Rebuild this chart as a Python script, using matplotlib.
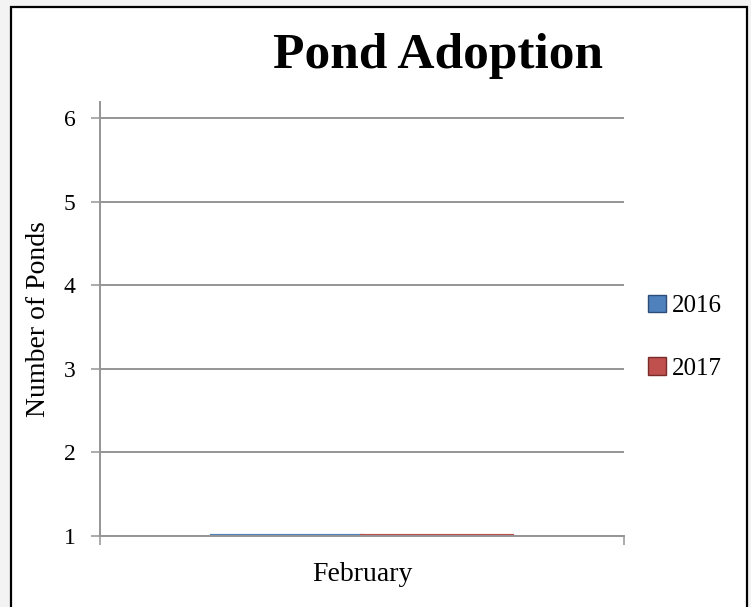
import matplotlib
matplotlib.use("Agg")
import matplotlib.pyplot as plt
from matplotlib.patches import Rectangle

# data
categories = ["February"]
series_names = ["2016", "2017"]
values_2016 = [1]
values_2017 = [1]

plt.rcParams['font.family'] = ['Liberation Serif', 'DejaVu Serif']

fig = plt.figure(figsize=(7.51, 6.07), dpi=100, facecolor="#f3f3f3")

# chart frame
frame = Rectangle((11 / 751, -0.02), (747 - 11) / 751, 1 - 7 / 607 + 0.02,
                  transform=fig.transFigure, facecolor="white", edgecolor="black",
                  linewidth=1.6, zorder=-5)
fig.patches.append(frame)

ax = fig.add_axes([100 / 751, 1 - 536 / 607, 524 / 751, (536 - 102) / 607])
ax.set_zorder(2)
ax.set_facecolor("none")

grid_col = "#959595"
bar_w = 150 / 524
x0 = 112 / 524
ax.bar([x0], values_2016, width=bar_w, align="edge", color="#4F81BD",
       edgecolor="#4F81BD", linewidth=3, label=series_names[0], zorder=1)
ax.bar([x0 + bar_w], values_2017, width=bar_w, align="edge", color="#C0504D",
       edgecolor="#C0504D", linewidth=3, label=series_names[1], zorder=1)

ax.set_xlim(0, 1)
ax.set_ylim(1, 6.19)
ax.set_yticks(range(1, 7))
ax.yaxis.grid(True, color=grid_col, linewidth=1.4, zorder=2)
ax.set_axisbelow(False)

for s in ["top", "right"]:
    ax.spines[s].set_visible(False)
for s in ["left", "bottom"]:
    ax.spines[s].set_color(grid_col)
    ax.spines[s].set_linewidth(1.4)
    ax.spines[s].set_zorder(3)

ax.tick_params(axis="y", length=6.5, width=1.1, color=grid_col, labelsize=17, pad=11)
ax.set_xticks([0, 1])
ax.set_xticklabels(["", ""])
ax.tick_params(axis="x", which="major", length=6.5, width=1.1, color=grid_col)
ax.set_xticks([0.5], minor=True)
ax.set_xticklabels(categories, minor=True)
ax.tick_params(axis="x", which="minor", length=0, labelsize=20, pad=19)

ax.set_ylabel("Number of Ponds", fontsize=20, labelpad=9)

fig.text(438 / 751, 1 - 56 / 607, "Pond Adoption", fontsize=37, fontweight="bold",
         ha="center", va="center")

leg = ax.legend(loc="center left", bbox_to_anchor=(1.002, 0.458), frameon=False,
                fontsize=18, handlelength=0.72, handleheight=0.72,
                handletextpad=0.25, labelspacing=1.6)
for h, c in zip(leg.legend_handles, ["#2C4D75", "#772C2A"]):
    h.set_edgecolor(c)
    h.set_linewidth(1)

fig.savefig("out.png", dpi=100, facecolor=fig.get_facecolor())
